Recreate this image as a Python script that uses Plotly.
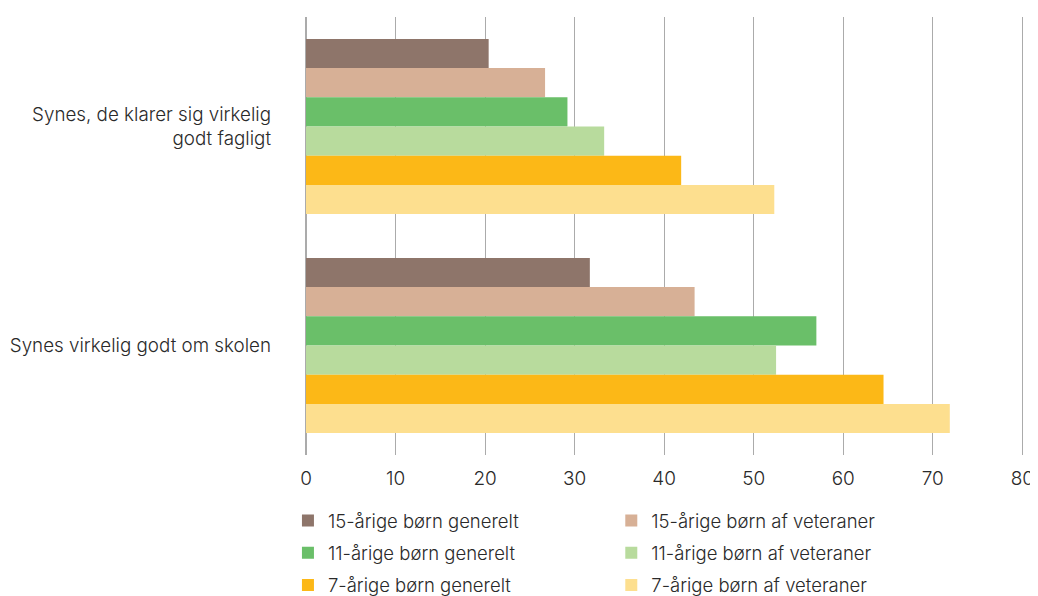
import plotly.graph_objects as go

categories = ["Synes, de klarer sig virkelig<br>godt fagligt", "Synes virkelig godt om skolen"]
series_names = [
    "15-årige børn generelt",
    "15-årige børn af veteraner",
    "11-årige børn generelt",
    "11-årige børn af veteraner",
    "7-årige børn generelt",
    "7-årige børn af veteraner",
]
v15_gen = [20.4, 31.7]
v15_vet = [26.7, 43.4]
v11_gen = [29.2, 57.0]
v11_vet = [33.3, 52.5]
v7_gen = [41.9, 64.5]
v7_vet = [52.3, 71.9]
colors = ["#8E756A", "#D7B096", "#6ABF69", "#B8DB9D", "#FCB817", "#FDDF8F"]
x_ticks = [0, 10, 20, 30, 40, 50, 60, 70, 80]

values = [v15_gen, v15_vet, v11_gen, v11_vet, v7_gen, v7_vet]
legend_ids = ["legend", "legend2", "legend", "legend2", "legend", "legend2"]

fig = go.Figure()
for i, (name, vals, col) in enumerate(zip(series_names, values, colors)):
    fig.add_trace(go.Bar(
        y=categories, x=vals, name=name, orientation="h",
        marker=dict(color=col, line=dict(width=0)),
        legend=legend_ids[i], legendgroup=f"g{i}",
    ))

font_family = "Inter, 'Open Sans', sans-serif"
text_color = "#2a2a2a"
legend_common = dict(
    orientation="v", yanchor="top", y=-0.107, xanchor="left",
    font=dict(size=18.5, color=text_color, weight=300),
    itemclick=False, itemdoubleclick=False, tracegroupgap=5.2,
    bgcolor="rgba(0,0,0,0)", borderwidth=0,
)
fig.update_layout(
    width=1030, height=600,
    margin=dict(l=298, r=13.3, t=9, b=153, autoexpand=False),
    paper_bgcolor="white", plot_bgcolor="white",
    barmode="group", bargap=0.2, bargroupgap=0,
    font=dict(family=font_family, size=18, color=text_color, weight=300),
    showlegend=True,
    legend=dict(x=-0.0251, **legend_common),
    legend2=dict(x=0.4246, **legend_common),
    xaxis=dict(
        range=[0, 80.3], tickvals=x_ticks, showgrid=True,
        gridcolor="#ABABAB", gridwidth=1, zeroline=True, zerolinecolor="#ABABAB",
        showline=False, ticks="", ticklabelstandoff=10,
        tickfont=dict(size=19, color=text_color, weight=300),
    ),
    yaxis=dict(
        autorange="reversed", showgrid=False, ticks="", ticklabelstandoff=34,
        tickfont=dict(size=18.8, color=text_color, weight=300),
    ),
)

fig.write_html("out.html")
